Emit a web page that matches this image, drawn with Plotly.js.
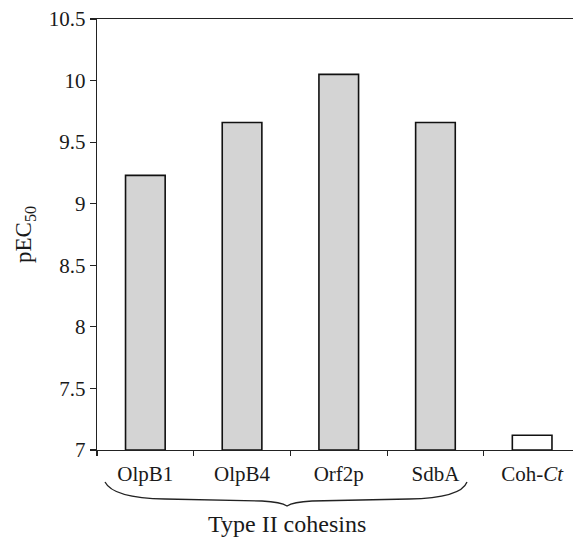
<!DOCTYPE html>
<html>
<head>
<meta charset="utf-8">
<script src="https://cdn.plot.ly/plotly-3.0.1.min.js"></script>
<style>html,body{margin:0;padding:0;background:#fff;}#chart{width:573px;height:541px;}</style>
</head>
<body>
<div id="chart"></div>
<script>
const categories = ["OlpB1", "OlpB4", "Orf2p", "SdbA", "Coh-<i>Ct</i>"];
const pEC50 = [9.23, 9.66, 10.05, 9.66, 7.12];
const barColors = ["#d4d4d4", "#d4d4d4", "#d4d4d4", "#d4d4d4", "#ffffff"];
const yTicks = [7, 7.5, 8, 8.5, 9, 9.5, 10, 10.5];
const yTickText = ["7", "7.5", "8", "8.5", "9", "9.5", "10", "10.5"];
const groupLabel = "Type II cohesins";
const baseValue = 7;

const W = 573, H = 541;
const M = {l: 97, r: 0, t: 19, b: 91};
const PW = W - M.l - M.r, PH = H - M.t - M.b;
const px = x => ((x - M.l) / PW).toFixed(4);
const py = y => ((H - M.b - y) / PH).toFixed(4);

const font = "'Liberation Serif', 'Times New Roman', serif";

const bracePath =
  `M ${px(105)} ${py(482)} Q ${px(113)} ${py(498)} ${px(165)} ${py(499)} ` +
  `L ${px(262)} ${py(501)} Q ${px(281)} ${py(502)} ${px(287)} ${py(506)} ` +
  `Q ${px(293)} ${py(502)} ${px(312)} ${py(501)} ` +
  `L ${px(409)} ${py(499)} Q ${px(461)} ${py(498)} ${px(467)} ${py(482)}`;

const trace = {
  type: "bar",
  x: categories,
  y: pEC50.map(v => v - baseValue),
  base: baseValue,
  width: 0.41,
  marker: {color: barColors, line: {color: "#111", width: 1.6}},
  hoverinfo: "x+y"
};

const layout = {
  width: W, height: H,
  margin: M,
  paper_bgcolor: "#fff", plot_bgcolor: "#fff",
  showlegend: false,
  font: {family: font, color: "#1a1a1a", size: 20},
  xaxis: {
    type: "category",
    range: [-0.5, -0.5 + PW / 96.7],
    tickson: "boundaries",
    ticks: "outside", ticklen: 5, tickwidth: 1.2, tickcolor: "#222",
    ticklabelstandoff: 4,
    showline: true, linecolor: "#222", linewidth: 1.3,
    mirror: true,
    showgrid: false, zeroline: false,
    tickfont: {family: font, size: 21, color: "#1a1a1a"},
    fixedrange: true
  },
  yaxis: {
    range: [7, 10.5],
    tickvals: yTicks, ticktext: yTickText,
    ticks: "outside", ticklen: 6, tickwidth: 1.2, tickcolor: "#222",
    showline: true, linecolor: "#222", linewidth: 1.3,
    showgrid: false, zeroline: false,
    tickfont: {family: font, size: 21, color: "#1a1a1a"},
    title: {text: "pEC<sub>50</sub>", font: {family: font, size: 23, color: "#1a1a1a"}, standoff: 10},
    fixedrange: true
  },
  shapes: [{
    type: "path", xref: "paper", yref: "paper",
    path: bracePath,
    line: {color: "#222", width: 1.3}
  }],
  annotations: [{
    text: groupLabel, xref: "paper", yref: "paper",
    x: Number(px(287)), y: Number(py(524)),
    xanchor: "center", yanchor: "middle", showarrow: false,
    font: {family: font, size: 24, color: "#1a1a1a"}
  }]
};

Plotly.newPlot("chart", [trace], layout, {staticPlot: true, displayModeBar: false});
</script>
</body>
</html>
